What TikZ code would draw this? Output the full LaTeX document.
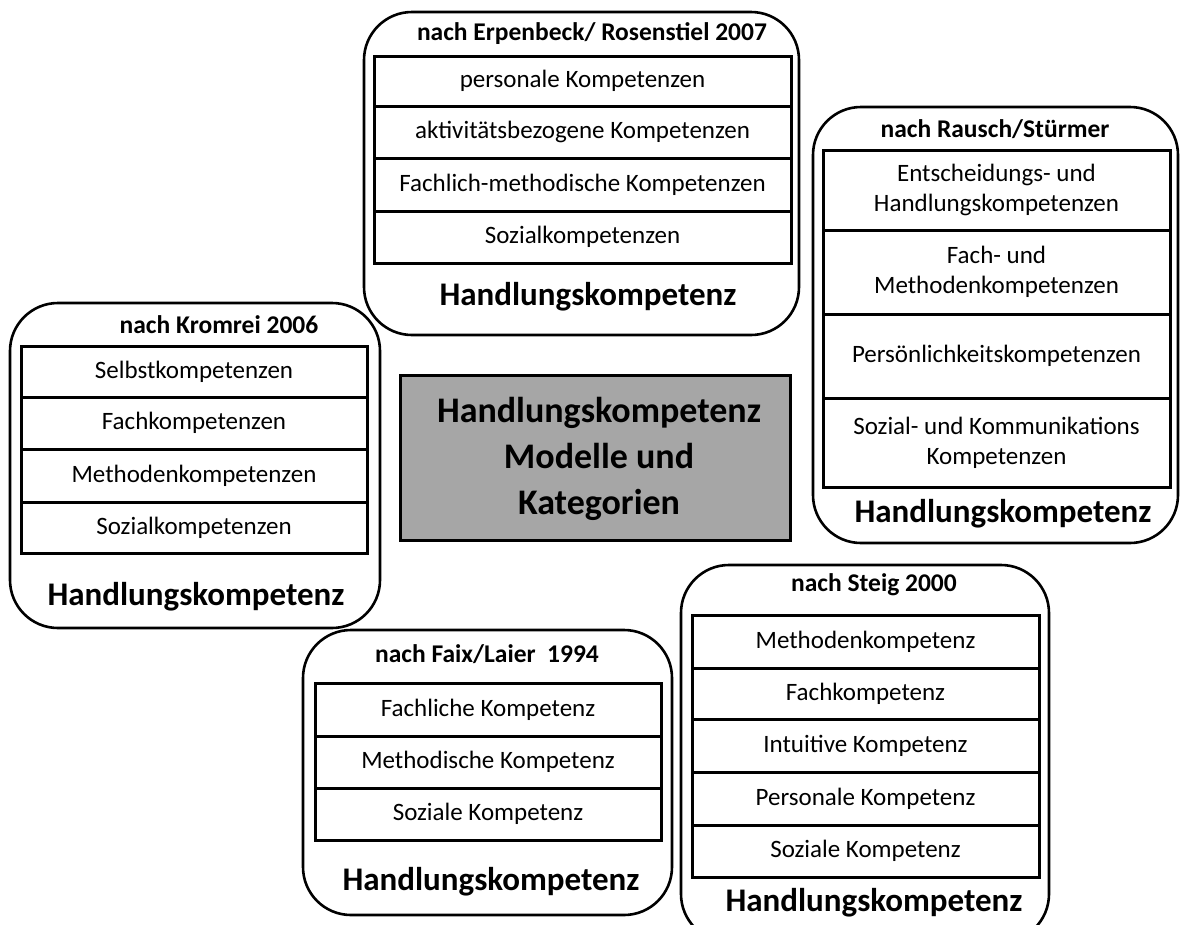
\documentclass[tikz,border=0pt]{standalone}
\usepackage{fontspec}
\setmainfont{Carlito}
\begin{document}
\begin{tikzpicture}[x=1pt,y=-1pt,
  outerbox/.style={draw, line width=2.6pt, rounded corners=48pt, inner sep=0pt},
  rowbox/.style={draw, line width=3pt, inner sep=0pt, align=center,
    font=\fontsize{25}{30}\selectfont},
  titletext/.style={inner sep=0pt, font=\fontsize{25.5}{30}\selectfont\bfseries},
  labeltext/.style={inner sep=0pt, font=\fontsize{33}{40}\selectfont\bfseries},
  centerbox/.style={draw, line width=3pt, fill=black!35, inner sep=0pt},
  centertext/.style={inner sep=0pt, align=center,
    font=\fontsize{36}{46}\selectfont\bfseries}]
\useasboundingbox (0,0) rectangle (1181,924);
\clip (0,0) rectangle (1181,924);

% Erpenbeck / Rosenstiel
\node[outerbox, minimum width=435pt, minimum height=323pt] (erpB) at (581.5,173.5) {};
\node[titletext] (erpT) at (592,34) {nach Erpenbeck/ Rosenstiel 2007};
\node[rowbox, minimum width=417pt, minimum height=50pt] (erp1) at (582.5,81) {personale Kompetenzen};
\node[rowbox, minimum width=417pt, minimum height=52pt] (erp2) at (582.5,132) {aktivitätsbezogene Kompetenzen};
\node[rowbox, minimum width=417pt, minimum height=53pt] (erp3) at (582.5,184.5) {Fachlich-methodische Kompetenzen};
\node[rowbox, minimum width=417pt, minimum height=52pt] (erp4) at (582.5,237) {Sozialkompetenzen};
\node[labeltext] (erpL) at (588,297) {Handlungskompetenz};

% Rausch / Stürmer
\node[outerbox, minimum width=365pt, minimum height=436pt] (rauB) at (995.5,325) {};
\node[titletext] (rauT) at (995,129) {nach Rausch/Stürmer};
\node[rowbox, minimum width=347pt, minimum height=80pt] (rau1) at (996.5,190) {Entscheidungs- und\\Handlungskompetenzen};
\node[rowbox, minimum width=347pt, minimum height=84pt] (rau2) at (996.5,272) {Fach- und\\Methodenkompetenzen};
\node[rowbox, minimum width=347pt, minimum height=84pt] (rau3) at (996.5,356) {Persönlichkeitskompetenzen};
\node[rowbox, minimum width=347pt, minimum height=89pt] (rau4) at (996.5,442.5) {Sozial- und Kommunikations\\Kompetenzen};
\node[labeltext] (rauL) at (1003,514) {Handlungskompetenz};

% Kromrei
\node[outerbox, minimum width=370pt, minimum height=325pt] (kroB) at (195,465.5) {};
\node[titletext] (kroT) at (219,325) {nach Kromrei 2006};
\node[rowbox, minimum width=346pt, minimum height=51pt] (kro1) at (194,371.5) {Selbstkompetenzen};
\node[rowbox, minimum width=346pt, minimum height=52pt] (kro2) at (194,423) {Fachkompetenzen};
\node[rowbox, minimum width=346pt, minimum height=53pt] (kro3) at (194,475.5) {Methodenkompetenzen};
\node[rowbox, minimum width=346pt, minimum height=51pt] (kro4) at (194,527.5) {Sozialkompetenzen};
\node[labeltext] (kroL) at (196,597) {Handlungskompetenz};

% Faix / Laier
\node[outerbox, minimum width=369pt, minimum height=285pt] (faiB) at (487.5,772.5) {};
\node[titletext] (faiT) at (487,654) {nach Faix/Laier~ 1994};
\node[rowbox, minimum width=346pt, minimum height=53pt] (fai1) at (488,709.5) {Fachliche Kompetenz};
\node[rowbox, minimum width=346pt, minimum height=52pt] (fai2) at (488,762) {Methodische Kompetenz};
\node[rowbox, minimum width=346pt, minimum height=52pt] (fai3) at (488,814) {Soziale Kompetenz};
\node[labeltext] (faiL) at (491,882) {Handlungskompetenz};

% Steig (runs past the lower edge)
\node[outerbox, minimum width=368pt, minimum height=377pt] (steB) at (865,753.5) {};
\node[titletext] (steT) at (874,585) {nach Steig 2000};
\node[rowbox, minimum width=347pt, minimum height=53pt] (ste1) at (865.5,641.5) {Methodenkompetenz};
\node[rowbox, minimum width=347pt, minimum height=51pt] (ste2) at (865.5,693.5) {Fachkompetenz};
\node[rowbox, minimum width=347pt, minimum height=53pt] (ste3) at (865.5,745.5) {Intuitive Kompetenz};
\node[rowbox, minimum width=347pt, minimum height=53pt] (ste4) at (865.5,798.5) {Personale Kompetenz};
\node[rowbox, minimum width=347pt, minimum height=52pt] (ste5) at (865.5,851) {Soziale Kompetenz};
\node[labeltext] (steL) at (874,903) {Handlungskompetenz};

% central title box
\node[centerbox, minimum width=390pt, minimum height=165pt] (center) at (595,457.5) {};
\node[centertext] (centerT) at (599,459) {Handlungskompetenz\\Modelle und\\Kategorien};
\end{tikzpicture}
\end{document}
